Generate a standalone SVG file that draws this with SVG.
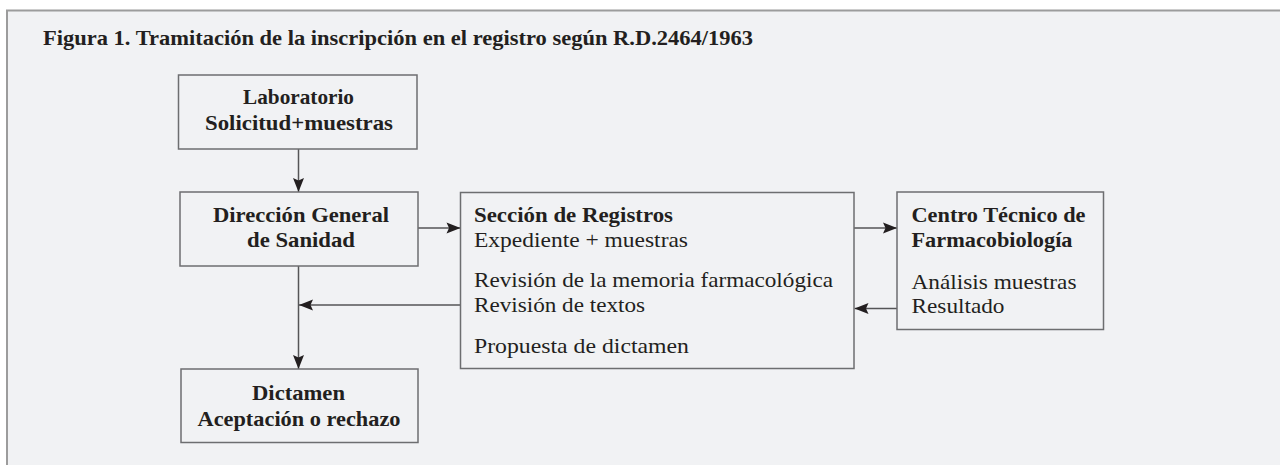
<svg xmlns="http://www.w3.org/2000/svg" width="1280" height="465" viewBox="0 0 1280 465">
<style>
.box{fill:#f1f2f4;stroke:#6d6e70;stroke-width:1.5}
.t{font-family:"Liberation Serif","Times New Roman",serif;font-size:21px;fill:#231f20}
.b{font-weight:bold}
.ln{fill:none;stroke:#555557;stroke-width:1.5}
</style>
<defs>
<marker id="ah" markerUnits="userSpaceOnUse" markerWidth="16" markerHeight="12" viewBox="0 0 16 12" refX="15" refY="6" orient="auto">
<path d="M1,0.5 L15,6 L1,11.5 L3.5,6 z" fill="#231f20"/>
</marker>
</defs>
<rect x="0" y="0" width="1280" height="465" fill="#ffffff"/>
<rect x="7" y="10.5" width="1300" height="480" fill="#f1f2f4" stroke="#9c9c9c" stroke-width="2"/>
<text class="t b" x="43" y="45" textLength="710" lengthAdjust="spacingAndGlyphs">Figura 1. Tramitación de la inscripción en el registro según R.D.2464/1963</text>
<g id="connectors">
<line class="ln" x1="298.5" y1="149" x2="298.5" y2="192" marker-end="url(#ah)"/>
<line class="ln" x1="418" y1="228" x2="460.5" y2="228" marker-end="url(#ah)"/>
<line class="ln" x1="854" y1="228" x2="897" y2="228" marker-end="url(#ah)"/>
<line class="ln" x1="897" y1="308.5" x2="854.5" y2="308.5" marker-end="url(#ah)"/>
<line class="ln" x1="460.5" y1="305" x2="299" y2="305" marker-end="url(#ah)"/>
<line class="ln" x1="298.5" y1="266" x2="298.5" y2="369" marker-end="url(#ah)"/>
</g>
<g id="laboratorio">
<rect class="box" x="178.5" y="75" width="238.5" height="74"/>
<text class="t b" x="243" y="104" textLength="111" lengthAdjust="spacingAndGlyphs">Laboratorio</text>
<text class="t b" x="205" y="130" textLength="188" lengthAdjust="spacingAndGlyphs">Solicitud+muestras</text>
</g>
<g id="direccion">
<rect class="box" x="180" y="192" width="238" height="74"/>
<text class="t b" x="213" y="222" textLength="176" lengthAdjust="spacingAndGlyphs">Dirección General</text>
<text class="t b" x="247" y="247" textLength="108" lengthAdjust="spacingAndGlyphs">de Sanidad</text>
</g>
<g id="seccion">
<rect class="box" x="460.5" y="192.5" width="393.5" height="176"/>
<text class="t b" x="474" y="222" textLength="199" lengthAdjust="spacingAndGlyphs">Sección de Registros</text>
<text class="t" x="474" y="247" textLength="214" lengthAdjust="spacingAndGlyphs">Expediente + muestras</text>
<text class="t" x="474" y="287" textLength="359" lengthAdjust="spacingAndGlyphs">Revisión de la memoria farmacológica</text>
<text class="t" x="474" y="312" textLength="171" lengthAdjust="spacingAndGlyphs">Revisión de textos</text>
<text class="t" x="474" y="353" textLength="215" lengthAdjust="spacingAndGlyphs">Propuesta de dictamen</text>
</g>
<g id="centro">
<rect class="box" x="897" y="192" width="206.5" height="137.5"/>
<text class="t b" x="911.5" y="222" textLength="174" lengthAdjust="spacingAndGlyphs">Centro Técnico de</text>
<text class="t b" x="911.5" y="247" textLength="161" lengthAdjust="spacingAndGlyphs">Farmacobiología</text>
<text class="t" x="911.5" y="288.5" textLength="165" lengthAdjust="spacingAndGlyphs">Análisis muestras</text>
<text class="t" x="911.5" y="313" textLength="93" lengthAdjust="spacingAndGlyphs">Resultado</text>
</g>
<g id="dictamen">
<rect class="box" x="181" y="369" width="237" height="73.5"/>
<text class="t b" x="252" y="400" textLength="93" lengthAdjust="spacingAndGlyphs">Dictamen</text>
<text class="t b" x="197.5" y="426" textLength="203" lengthAdjust="spacingAndGlyphs">Aceptación o rechazo</text>
</g>
</svg>
